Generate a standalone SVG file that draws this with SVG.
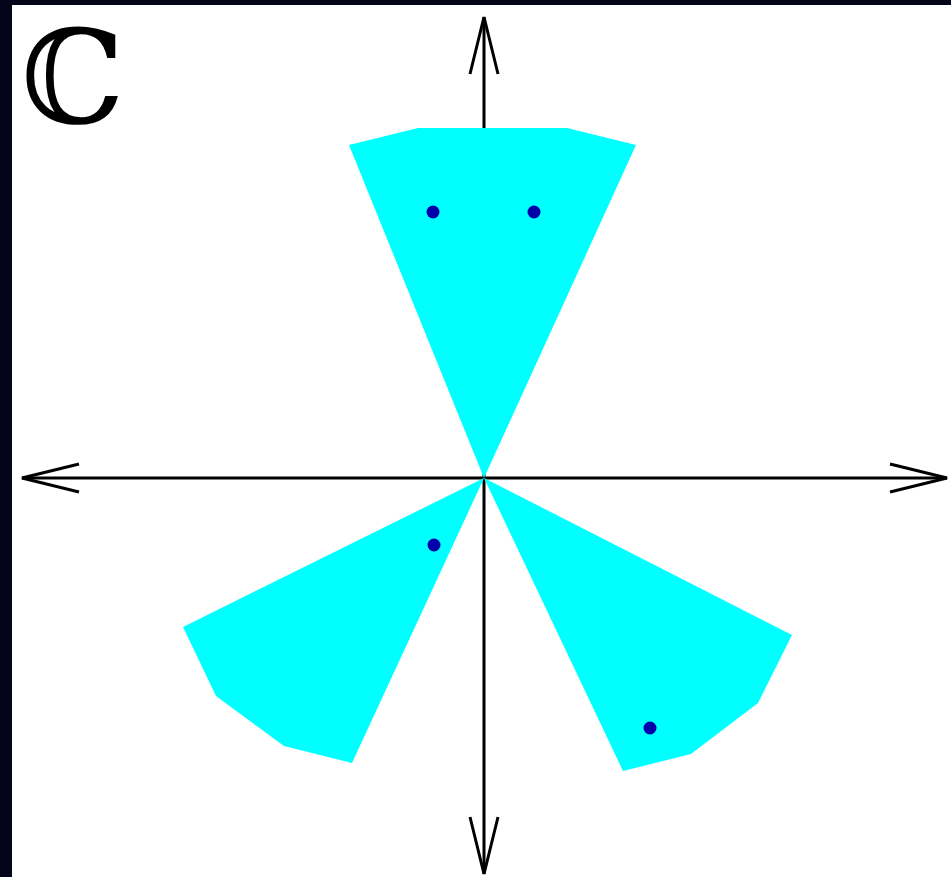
<svg xmlns="http://www.w3.org/2000/svg" width="951" height="877" viewBox="0 0 951 877">
<style>
.ax{stroke:#000;stroke-width:3;fill:none}
.sector{fill:#00ffff;stroke:none}
.pt{fill:#0000aa}
</style>
<rect x="0" y="0" width="951" height="877" fill="#ffffff"/>
<rect x="0" y="0" width="951" height="5" fill="#05051a"/>
<rect x="0" y="0" width="12" height="877" fill="#05051a"/>
<g id="axes">
<line class="ax" x1="22" y1="478" x2="947" y2="478"/>
<line class="ax" x1="484" y1="17" x2="484" y2="874"/>
<polyline class="ax" points="890,464 947,478 890,492"/>
<polyline class="ax" points="79,464 22,478 79,492"/>
<polyline class="ax" points="470,74 484,17 498,74"/>
<polyline class="ax" points="470,817 484,874 498,817"/>
</g>
<g id="sector-top">
<polygon class="sector" points="484,478 349,145 418,128 567,128 636,145"/>
</g>
<g id="sector-left">
<polygon class="sector" points="484,478 183,627 216,696 284,746 352,763"/>
</g>
<g id="sector-right">
<polygon class="sector" points="484,478 792,635 758,703 691,754 623,771"/>
</g>
<g id="points">
<circle class="pt" cx="433" cy="212" r="6.5"/>
<circle class="pt" cx="534" cy="212" r="6.5"/>
<circle class="pt" cx="434" cy="545" r="6.5"/>
<circle class="pt" cx="650" cy="728" r="6.5"/>
</g>
<text x="21" y="123" font-family="'DejaVu Serif', serif" font-size="130" fill="#000">ℂ</text>
</svg>
